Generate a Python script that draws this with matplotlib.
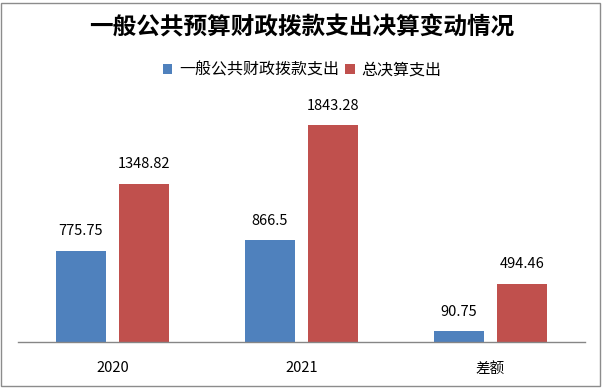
import matplotlib
matplotlib.use("Agg")
import matplotlib.pyplot as plt
import numpy as np
from matplotlib.patches import Rectangle

plt.rcParams['font.family'] = ['Noto Sans CJK SC', 'DejaVu Sans']

categories = ["2020", "2021", "差额"]
series_names = ["一般公共财政拨款支出", "总决算支出"]
appropriation = [775.75, 866.5, 90.75]
total_spending = [1348.82, 1843.28, 494.46]
label_text_a = ["775.75", "866.5", "90.75"]
label_text_b = ["1348.82", "1843.28", "494.46"]
title = "一般公共预算财政拨款支出决算变动情况"

colors = ["#4F81BD", "#C0504D"]

fig = plt.figure(figsize=(6.04, 3.89), dpi=100)
ax = fig.add_axes([18/604, 1 - 342/389, 567/604, 235/389])

x = np.arange(len(categories))
w = 0.265
off = 0.1675
b1 = ax.bar(x - off, appropriation, w, color=colors[0], label=series_names[0])
b2 = ax.bar(x + off, total_spending, w, color=colors[1], label=series_names[1])

for bars, txts in ((b1, label_text_a), (b2, label_text_b)):
    for r, t in zip(bars, txts):
        ax.annotate(t, (r.get_x() + r.get_width()/2, r.get_height()),
                    xytext=(0, 9), textcoords="offset points",
                    ha="center", va="bottom", fontsize=10.5, color="#000000")

ax.set_xlim(-0.5, 2.5)
ax.set_ylim(0, 2000)
ax.set_yticks([])
ax.set_xticks(x)
ax.set_xticklabels(categories, fontsize=10.5)
ax.tick_params(axis='x', length=0, pad=14)
for s in ["top", "left", "right"]:
    ax.spines[s].set_visible(False)
ax.spines["bottom"].set_color("#868686")
ax.spines["bottom"].set_linewidth(1.0)

fig.text(0.5, 1 - 28/389, title, ha="center", va="center", fontsize=17, fontweight="semibold")

fig.legend(handles=[b1, b2], labels=series_names, loc="center",
           bbox_to_anchor=(0.5, 1 - 70/389), ncol=2, frameon=False,
           fontsize=11.5, handlelength=0.6, handleheight=0.6,
           handletextpad=0.4, columnspacing=0.4)

fig.add_artist(Rectangle((1/604, 3/389), 599/604, 383/389, transform=fig.transFigure,
                         fill=False, edgecolor="#8C8C8C", linewidth=1.0))

fig.savefig("out.png", dpi=100)
